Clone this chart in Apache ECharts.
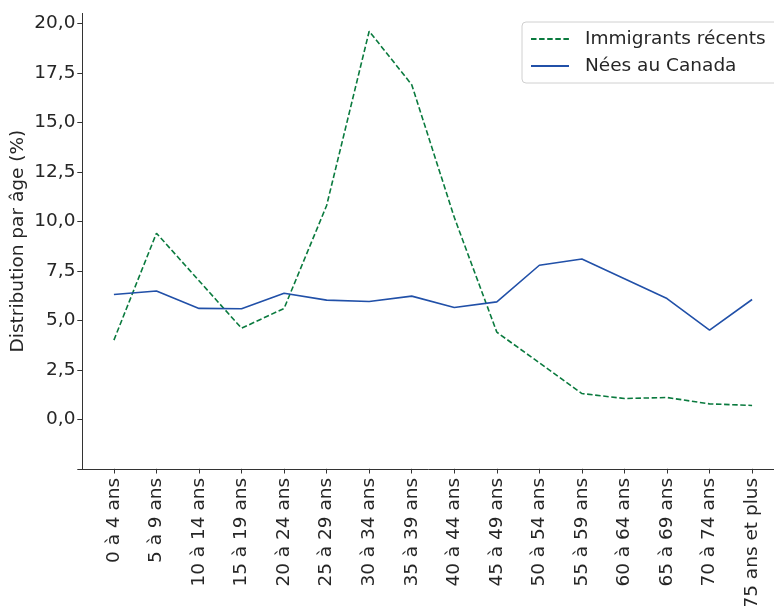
<!DOCTYPE html>
<html>
<head>
<meta charset="utf-8">
<script src="https://cdn.jsdelivr.net/npm/echarts@6/dist/echarts.min.js"></script>
<style>
  html, body { margin: 0; padding: 0; background: #fff; }
  #chart { width: 774px; height: 606px; }
</style>
</head>
<body>
<div id="chart"></div>
<script>
// Age groups (x axis)
const ageGroups = [
  '0 à 4 ans', '5 à 9 ans', '10 à 14 ans', '15 à 19 ans', '20 à 24 ans',
  '25 à 29 ans', '30 à 34 ans', '35 à 39 ans', '40 à 44 ans', '45 à 49 ans',
  '50 à 54 ans', '55 à 59 ans', '60 à 64 ans', '65 à 69 ans', '70 à 74 ans',
  '75 ans et plus'
];

// Age distribution (%) of recent immigrants
const immigrantsRecents = [4.0, 9.4, 7.0, 4.6, 5.6, 10.8, 19.6, 16.9, 10.2, 4.4,
                           2.85, 1.3, 1.05, 1.1, 0.78, 0.7];

// Age distribution (%) of those born in Canada
const neesAuCanada = [6.3, 6.48, 5.6, 5.58, 6.37, 6.02, 5.95, 6.22, 5.65, 5.93,
                      7.78, 8.1, 7.1, 6.1, 4.5, 6.05];

// Y-axis ticks (the lowest one carries no label)
const yTicks = [-2.5, 0, 2.5, 5, 7.5, 10, 12.5, 15, 17.5, 20];
const yLabels = [0, 2.5, 5, 7.5, 10, 12.5, 15, 17.5, 20];

const xIdx = ageGroups.map((_, i) => i);
const toPairs = arr => arr.map((v, i) => [i, v]);

const FONT = 'DejaVu Sans';
const FS = 18.5;
const TEXT = '#262626';
const AXIS = '#333333';

const chart = echarts.init(document.getElementById('chart'), null, { renderer: 'canvas' });

chart.setOption({
  backgroundColor: '#ffffff',
  animation: false,
  textStyle: { fontFamily: FONT },
  // the plot area runs slightly past the right edge of the canvas
  grid: {
    left: 82, right: -10, top: 13.4, bottom: 137.2,
    containLabel: false,
    outerBoundsMode: 'none'
  },
  legend: {
    orient: 'vertical',
    left: 522,
    top: 22,
    padding: [7, 14, 7, 8],
    itemWidth: 38,
    itemHeight: 14,
    itemGap: 7,
    borderColor: '#d0d0d0',
    borderWidth: 1,
    borderRadius: 4,
    backgroundColor: 'rgba(255,255,255,0.8)',
    itemStyle: { opacity: 0, borderWidth: 0 },
    textStyle: { fontFamily: FONT, fontSize: FS, lineHeight: 20, color: TEXT, padding: [0, 0, 0, 11] },
    data: ['Immigrants récents', 'Nées au Canada']
  },
  xAxis: {
    type: 'value',
    min: -0.75,
    max: 15.75,
    splitLine: { show: false },
    axisLine: { show: true, onZero: false, lineStyle: { color: AXIS, width: 1 } },
    axisTick: { show: true, length: 4.7, lineStyle: { color: AXIS }, customValues: xIdx },
    axisLabel: {
      customValues: xIdx,
      rotate: 90,
      margin: 9,
      fontFamily: FONT,
      fontSize: FS,
      color: TEXT,
      formatter: v => ageGroups[Math.round(v)]
    }
  },
  yAxis: {
    type: 'value',
    min: -2.5,
    max: 20.5,
    name: 'Distribution par âge (%)',
    nameLocation: 'middle',
    nameGap: 54,
    nameMoveOverlap: false,
    nameTextStyle: { fontFamily: FONT, fontSize: FS, color: TEXT },
    splitLine: { show: false },
    axisLine: { show: true, onZero: false, lineStyle: { color: AXIS, width: 1 } },
    axisTick: { show: true, length: 4.7, lineStyle: { color: AXIS }, customValues: yTicks },
    axisLabel: {
      customValues: yLabels,
      margin: 6.5,
      fontFamily: FONT,
      fontSize: FS,
      color: TEXT,
      formatter: v => v.toFixed(1).replace('.', ',')
    }
  },
  series: [
    {
      name: 'Immigrants récents',
      type: 'line',
      data: toPairs(immigrantsRecents),
      symbol: 'none',
      color: '#0a7a3e',
      lineStyle: { color: '#0a7a3e', width: 1.6, type: [5.5, 2.6] }
    },
    {
      name: 'Nées au Canada',
      type: 'line',
      data: toPairs(neesAuCanada),
      symbol: 'none',
      color: '#2150a8',
      lineStyle: { color: '#2150a8', width: 1.6 }
    }
  ]
});
</script>
</body>
</html>
